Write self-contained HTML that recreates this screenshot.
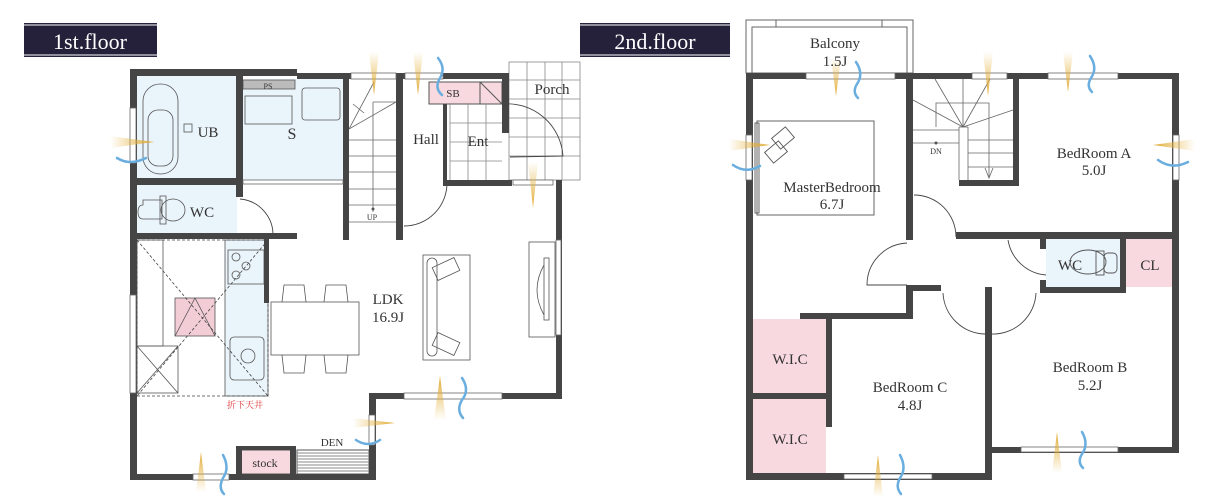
<!DOCTYPE html>
<html><head><meta charset="utf-8"><style>
html,body{margin:0;padding:0;background:#fff;}
svg{display:block;}
text{font-family:"Liberation Serif","Noto Serif CJK SC",serif;fill:#333;}
</style></head><body>
<svg width="1211" height="503" viewBox="0 0 1211 503" xmlns="http://www.w3.org/2000/svg">
<defs>
<linearGradient id="yv" x1="0" y1="0" x2="0" y2="1"><stop offset="0" stop-color="#e8b94a" stop-opacity="0"/><stop offset="1" stop-color="#e0a830"/></linearGradient>
<linearGradient id="yu" x1="0" y1="1" x2="0" y2="0"><stop offset="0" stop-color="#e8b94a" stop-opacity="0"/><stop offset="1" stop-color="#e0a830"/></linearGradient>
<linearGradient id="yh" x1="0" y1="0" x2="1" y2="0"><stop offset="0" stop-color="#e8b94a" stop-opacity="0"/><stop offset="1" stop-color="#e0a830"/></linearGradient>
<linearGradient id="yhl" x1="1" y1="0" x2="0" y2="0"><stop offset="0" stop-color="#e8b94a" stop-opacity="0"/><stop offset="1" stop-color="#e0a830"/></linearGradient>
</defs>

<!-- Titles -->
<rect x="24" y="23" width="133" height="34" fill="#25213a"/>
<line x1="24" y1="25" x2="157" y2="25" stroke="#fff" stroke-width="1"/>
<line x1="24" y1="55" x2="157" y2="55" stroke="#fff" stroke-width="1"/>
<text x="90" y="49" font-size="22" text-anchor="middle" style="fill:#fff">1st.floor</text>
<rect x="580" y="23" width="150" height="34" fill="#25213a"/>
<line x1="580" y1="25" x2="730" y2="25" stroke="#fff" stroke-width="1"/>
<line x1="580" y1="55" x2="730" y2="55" stroke="#fff" stroke-width="1"/>
<text x="655" y="49" font-size="22" text-anchor="middle" style="fill:#fff">2nd.floor</text>

<!-- ========== 1st floor ========== -->
<rect x="137" y="76" width="99" height="102" fill="#eaf4fb"/>
<rect x="243" y="79" width="100" height="103" fill="#eaf4fb"/>
<rect x="137" y="185" width="100" height="49" fill="#eaf4fb"/>
<rect x="225" y="240" width="43" height="156" fill="#eaf4fb"/>
<rect x="429" y="82" width="73" height="22" fill="#f7d9df" stroke="#555" stroke-width="1"/>
<line x1="480" y1="82" x2="480" y2="104" stroke="#555"/><line x1="480" y1="82" x2="502" y2="104" stroke="#555"/>
<rect x="240" y="450" width="52" height="24" fill="#f7d9df" stroke="#555"/>
<rect x="243" y="80" width="52" height="9" fill="#bbb" stroke="#555" stroke-width="0.8"/>
<g stroke="#888" stroke-width="0.8" fill="none">
<rect x="509" y="62" width="71" height="118"/>
<line x1="527" y1="62" x2="527" y2="180"/><line x1="545" y1="62" x2="545" y2="180"/><line x1="562" y1="62" x2="562" y2="180"/>
<line x1="509" y1="80" x2="580" y2="80"/><line x1="509" y1="99" x2="580" y2="99"/><line x1="509" y1="118" x2="580" y2="118"/><line x1="509" y1="137" x2="580" y2="137"/><line x1="509" y1="156" x2="580" y2="156"/>
<line x1="450" y1="104" x2="450" y2="180"/><line x1="468" y1="104" x2="468" y2="180"/><line x1="486" y1="104" x2="486" y2="180"/>
<line x1="450" y1="123" x2="502" y2="123"/><line x1="450" y1="142" x2="502" y2="142"/><line x1="450" y1="161" x2="502" y2="161"/>
</g>
<g stroke="#666" stroke-width="0.8" fill="none">
<line x1="349" y1="140" x2="396" y2="140"/><line x1="349" y1="156" x2="396" y2="156"/><line x1="349" y1="172" x2="396" y2="172"/><line x1="349" y1="189" x2="396" y2="189"/><line x1="349" y1="205" x2="396" y2="205"/><line x1="349" y1="222" x2="396" y2="222"/>
<line x1="373" y1="102" x2="373" y2="212"/><line x1="349" y1="129" x2="396" y2="102"/><line x1="349" y1="129" x2="374" y2="82"/>
<line x1="373" y1="102" x2="396" y2="102"/><line x1="353" y1="104" x2="364" y2="113"/>
</g>
<circle cx="373" cy="209" r="1.5" fill="#555"/>
<text x="372" y="220" font-size="8" text-anchor="middle">UP</text>
<rect x="297" y="450" width="72" height="24" fill="#fff" stroke="#555"/>
<g stroke="#888" stroke-width="1"><line x1="297" y1="453" x2="369" y2="453"/><line x1="297" y1="456" x2="369" y2="456"/><line x1="297" y1="459" x2="369" y2="459"/><line x1="297" y1="462" x2="369" y2="462"/><line x1="297" y1="465" x2="369" y2="465"/><line x1="297" y1="468" x2="369" y2="468"/><line x1="297" y1="471" x2="369" y2="471"/></g>

<g fill="none" stroke="#555" stroke-width="0.8">
<rect x="137" y="240" width="26" height="106"/>
<rect x="137" y="346" width="41" height="47"/>
<line x1="137" y1="346" x2="178" y2="393"/><line x1="178" y1="346" x2="137" y2="393"/>
<rect x="175" y="298" width="40" height="38" fill="#f3cdd6"/>
<line x1="175" y1="336" x2="195" y2="298"/><line x1="195" y1="298" x2="215" y2="336"/>
<rect x="228" y="250" width="36" height="34"/>
<circle cx="236" cy="257" r="4"/><circle cx="246" cy="266" r="4"/><circle cx="236" cy="275" r="4"/>
<rect x="230" y="337" width="34" height="43" rx="4"/><circle cx="248" cy="356" r="7"/>
<rect x="225" y="240" width="43" height="156"/>
<rect x="271" y="302" width="88" height="53" fill="#fff"/>
<path d="M282 302 L284 285 L304 285 L306 302 M324 302 L326 285 L346 285 L348 302 M282 355 L284 373 L304 373 L306 355 M324 355 L326 373 L346 373 L348 355"/>
</g>
<g fill="none" stroke="#444" stroke-width="0.8" stroke-dasharray="3,2">
<rect x="137" y="240" width="131" height="156"/>
<line x1="137" y1="240" x2="268" y2="396"/><line x1="268" y1="240" x2="137" y2="396"/>
</g>
<text x="245" y="408" font-size="9" text-anchor="middle" style="fill:#d33">折下天井</text>
<g fill="none" stroke="#555" stroke-width="0.8">
<rect x="423" y="255" width="47" height="105"/>
<rect x="427" y="258" width="10" height="98" rx="5"/>
<rect x="434" y="262" width="24" height="14" transform="rotate(-25 446 269)"/>
<rect x="434" y="337" width="24" height="14" transform="rotate(25 446 344)"/>
<rect x="529" y="242" width="26" height="95"/>
<rect x="544" y="258" width="5" height="62"/>
<path d="M544 265 Q530 290 544 315"/>
</g>
<g fill="none" stroke="#555" stroke-width="0.8">
<rect x="143" y="84" width="35" height="90" rx="17"/>
<rect x="148" y="110" width="25" height="56" rx="10"/>
<rect x="184" y="124" width="8" height="8"/>
<rect x="245" y="96" width="47" height="28"/>
<rect x="302" y="88" width="38" height="32" rx="3"/>
<path d="M143 205 Q138 205 138 212 Q138 219 143 219 L162 219 L162 200 L143 200 Z"/>
<ellipse cx="173" cy="210" rx="12" ry="11"/>
<rect x="160" y="196" width="6" height="28"/>
</g>
<g fill="none" stroke="#444" stroke-width="0.9">
<path d="M240 199 A36 36 0 0 1 273 234"/>
<path d="M447 182 A43 43 0 0 1 404 226"/>
<path d="M502 104 A56 56 0 0 1 563 156 L510 157"/>
</g>
<g fill="#454545">
<rect x="130" y="69" width="7" height="411"/>
<rect x="130" y="69" width="167" height="7"/>
<rect x="297" y="73" width="212" height="6"/>
<rect x="236" y="69" width="7" height="128"/>
<rect x="130" y="178" width="113" height="7"/>
<rect x="130" y="233" width="167" height="6"/>
<rect x="343" y="73" width="6" height="167"/>
<rect x="396" y="73" width="7" height="167"/>
<rect x="502" y="74" width="7" height="59"/>
<rect x="447" y="180" width="65" height="6"/>
<rect x="443" y="104" width="4" height="82"/>
<rect x="556" y="180" width="6" height="218"/>
<rect x="369" y="393" width="193" height="6"/>
<rect x="369" y="393" width="7" height="87"/>
<rect x="130" y="474" width="246" height="6"/>
<rect x="236" y="446" width="6" height="30"/>
<rect x="290" y="446" width="6" height="30"/>
<rect x="236" y="446" width="60" height="4"/>
<rect x="264" y="233" width="5" height="70"/>
</g>
<g fill="#fff" stroke="#666" stroke-width="0.8">
<rect x="351" y="73" width="45" height="6"/><rect x="405" y="73" width="38" height="6"/>
<rect x="243" y="180" width="100" height="4"/>
<rect x="130" y="295" width="6" height="98"/>
<rect x="513" y="180" width="40" height="5"/>
<rect x="556" y="240" width="5" height="95"/>
<rect x="404" y="393" width="98" height="6"/>
<rect x="193" y="474" width="36" height="6"/>
<rect x="369" y="415" width="6" height="30"/>
<rect x="130" y="108" width="6" height="55"/>
</g>
<g>
<polygon points="369,52 379,52 374,95" fill="url(#yv)"/>
<polygon points="413,52 423,52 418,95" fill="url(#yv)"/>
<polygon points="528,162 538,162 533,208" fill="url(#yv)"/>
<polygon points="110,136 110,148 154,142" fill="url(#yh)"/>
<polygon points="440,376 434,420 446,420" fill="url(#yu)"/>
<polygon points="196,492 206,492 201,452" fill="url(#yu)"/>
<polygon points="353,418 353,428 395,423" fill="url(#yh)"/>
</g>
<g fill="none" stroke="#6aaee0" stroke-width="2.5" stroke-linecap="round">
<path d="M438 58 Q446 68 440 78 Q434 88 442 95"/>
<path d="M462 378 Q470 390 462 400 Q456 410 463 418"/>
<path d="M223 455 Q230 468 223 478 Q218 488 224 494"/>
<path d="M117 158 Q130 166 146 158"/>
<path d="M356 440 Q368 448 380 440"/>
</g>
<text x="208" y="137" font-size="15" text-anchor="middle">UB</text>
<text x="292" y="139" font-size="16" text-anchor="middle">S</text>
<text x="268" y="89" font-size="8" text-anchor="middle">PS</text>
<text x="202" y="217" font-size="15" text-anchor="middle">WC</text>
<text x="426" y="144" font-size="15" text-anchor="middle">Hall</text>
<text x="478" y="146" font-size="15" text-anchor="middle">Ent</text>
<text x="552" y="94" font-size="15" text-anchor="middle">Porch</text>
<text x="453" y="97" font-size="11" text-anchor="middle">SB</text>
<text x="388" y="304" font-size="15" text-anchor="middle">LDK</text>
<text x="388" y="322" font-size="15" text-anchor="middle">16.9J</text>
<text x="332" y="446" font-size="11" text-anchor="middle">DEN</text>
<text x="265" y="467" font-size="12" text-anchor="middle">stock</text>

<!-- ========== 2nd floor ========== -->
<rect x="1046" y="239" width="74" height="48" fill="#eaf4fb"/>
<rect x="1126" y="239" width="46" height="48" fill="#f7d9df"/>
<rect x="753" y="319" width="73" height="74" fill="#f7d9df"/>
<rect x="753" y="399" width="73" height="74" fill="#f7d9df"/>
<g fill="none" stroke="#666" stroke-width="1">
<rect x="746" y="20" width="167" height="53"/>
<polyline points="752,73 752,27 907,27 907,73"/>
<line x1="776" y1="20" x2="776" y2="27"/><line x1="882" y1="20" x2="882" y2="27"/>
</g>
<g fill="none" stroke="#555" stroke-width="0.9">
<rect x="757" y="121" width="117" height="94"/>
<rect x="755" y="123" width="4" height="90"/>
<rect x="774" y="131" width="18" height="14" transform="rotate(-40 783 138)"/>
<rect x="767" y="145" width="18" height="14" transform="rotate(-40 776 152)"/>
</g>
<g stroke="#666" stroke-width="0.8" fill="none">
<line x1="913" y1="130" x2="959" y2="130"/><line x1="913" y1="143" x2="959" y2="143"/>
<line x1="959" y1="127" x2="959" y2="180"/><line x1="959" y1="127" x2="968" y2="127"/>
<line x1="968" y1="127" x2="968" y2="180"/>
<line x1="968" y1="140" x2="1013" y2="140"/><line x1="968" y1="153" x2="1013" y2="153"/><line x1="968" y1="167" x2="1013" y2="167"/>
<line x1="913" y1="100" x2="963" y2="127"/><line x1="935" y1="79" x2="963" y2="127"/><line x1="963" y1="79" x2="963" y2="127"/><line x1="990" y1="79" x2="963" y2="127"/><line x1="1013" y1="110" x2="963" y2="127"/>
<polyline points="936,127 936,103 989,103 989,178"/>
<path d="M985 168 L989 178 L993 168"/>
</g>
<circle cx="936" cy="143" r="1.5" fill="#555"/>
<text x="936" y="154" font-size="8" text-anchor="middle">DN</text>
<g fill="none" stroke="#555" stroke-width="0.9">
<ellipse cx="1088" cy="262" rx="18" ry="12"/>
<rect x="1096" y="251" width="8" height="24"/>
<rect x="1104" y="253" width="13" height="20" rx="4"/>
</g>
<g fill="none" stroke="#444" stroke-width="0.9">
<path d="M914 195 A42 42 0 0 1 956 237"/>
<path d="M907 243 A42 42 0 0 0 867 285 L907 285"/>
<path d="M1008 240 A42 42 0 0 0 1046 275"/>
<path d="M943 293 A43 43 0 0 0 986 334"/>
<path d="M1036 293 A43 43 0 0 1 992 334"/>
</g>
<g fill="#454545">
<rect x="746" y="73" width="7" height="407"/>
<rect x="746" y="73" width="433" height="6"/>
<rect x="1172" y="73" width="7" height="380"/>
<rect x="906" y="73" width="7" height="167"/>
<rect x="1013" y="79" width="6" height="107"/>
<rect x="959" y="180" width="60" height="6"/>
<rect x="956" y="232" width="223" height="7"/>
<rect x="1040" y="239" width="6" height="10"/>
<rect x="1040" y="280" width="6" height="13"/>
<rect x="1040" y="287" width="86" height="6"/>
<rect x="1120" y="239" width="6" height="54"/>
<rect x="906" y="285" width="7" height="34"/>
<rect x="800" y="313" width="113" height="6"/>
<rect x="906" y="285" width="35" height="6"/>
<rect x="985" y="287" width="7" height="193"/>
<rect x="826" y="313" width="6" height="114"/>
<rect x="753" y="393" width="79" height="6"/>
<rect x="746" y="473" width="246" height="7"/>
<rect x="992" y="447" width="187" height="6"/>
</g>
<g fill="#fff" stroke="#666" stroke-width="0.8">
<rect x="806" y="73" width="89" height="6"/>
<rect x="972" y="73" width="35" height="6"/>
<rect x="1048" y="73" width="70" height="6"/>
<rect x="746" y="135" width="6" height="45"/>
<rect x="1173" y="135" width="6" height="45"/>
<rect x="844" y="474" width="88" height="5"/>
<rect x="1021" y="447" width="97" height="5"/>
</g>
<g>
<polygon points="831,58 841,58 836,96" fill="url(#yv)"/>
<polygon points="983,52 993,52 988,96" fill="url(#yv)"/>
<polygon points="1063,52 1073,52 1068,92" fill="url(#yv)"/>
<polygon points="729,139 729,151 770,145" fill="url(#yh)"/>
<polygon points="1195,139 1195,151 1153,145" fill="url(#yhl)"/>
<polygon points="873,497 883,497 878,455" fill="url(#yu)"/>
<polygon points="1052,473 1062,473 1057,432" fill="url(#yu)"/>
</g>
<g fill="none" stroke="#6aaee0" stroke-width="2.5" stroke-linecap="round">
<path d="M856 62 Q864 74 857 84 Q852 92 858 98"/>
<path d="M1090 56 Q1098 68 1091 78 Q1086 86 1092 92"/>
<path d="M733 165 Q746 174 760 166"/>
<path d="M1158 160 Q1172 170 1188 162"/>
<path d="M900 455 Q907 468 900 478 Q895 487 901 494"/>
<path d="M1082 432 Q1089 444 1082 454 Q1077 462 1083 468"/>
</g>
<text x="835" y="48" font-size="15" text-anchor="middle">Balcony</text>
<text x="835" y="66" font-size="15" text-anchor="middle">1.5J</text>
<text x="832" y="192" font-size="15" text-anchor="middle">MasterBedroom</text>
<text x="832" y="209" font-size="15" text-anchor="middle">6.7J</text>
<text x="1094" y="158" font-size="15" text-anchor="middle">BedRoom A</text>
<text x="1094" y="175" font-size="15" text-anchor="middle">5.0J</text>
<text x="1070" y="270" font-size="15" text-anchor="middle">WC</text>
<text x="1150" y="270" font-size="15" text-anchor="middle">CL</text>
<text x="790" y="364" font-size="15" text-anchor="middle">W.I.C</text>
<text x="790" y="444" font-size="15" text-anchor="middle">W.I.C</text>
<text x="910" y="392" font-size="15" text-anchor="middle">BedRoom C</text>
<text x="910" y="410" font-size="15" text-anchor="middle">4.8J</text>
<text x="1090" y="372" font-size="15" text-anchor="middle">BedRoom B</text>
<text x="1090" y="390" font-size="15" text-anchor="middle">5.2J</text>
</svg>
</body></html>
